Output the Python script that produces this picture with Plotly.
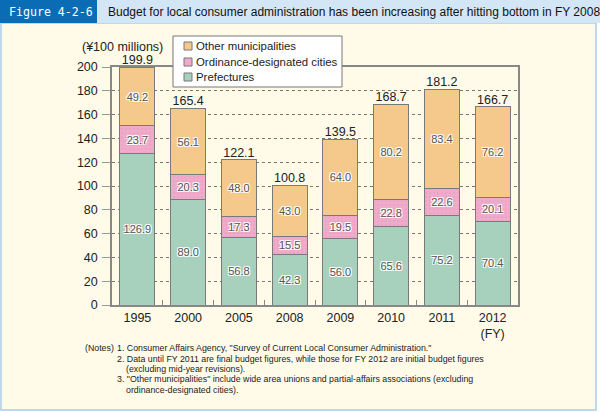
import plotly.graph_objects as go

years = ['1995', '2000', '2005', '2008', '2009', '2010', '2011', '2012<br>(FY)']
prefectures = [126.9, 89.0, 56.8, 42.3, 56.0, 65.6, 75.2, 70.4]
designated = [23.7, 20.3, 17.3, 15.5, 19.5, 22.8, 22.6, 20.1]
other = [49.2, 56.1, 48.0, 43.0, 64.0, 80.2, 83.4, 76.2]
totals = [199.9, 165.4, 122.1, 100.8, 139.5, 168.7, 181.2, 166.7]

notes = [
    '1. Consumer Affairs Agency, "Survey of Current Local Consumer Administration."',
    '2. Data until FY 2011 are final budget figures, while those for FY 2012 are initial budget figures',
    '   (excluding mid-year revisions).',
    '3. "Other municipalities" include wide area unions and partial-affairs associations (excluding',
    '   ordinance-designated cities).',
]

c_pref = '#a7d1bc'
c_desig = '#efabc9'
c_other = '#f5c98c'

W, H = 600, 412
L, R, T, B = 112, 518, 67, 305


def px(x):
    return (x - L) / (R - L)


def py(y):
    return (B - y) / (B - T)


FONT = 'Liberation Sans, Arial'
halo = '1px 1px 0 #fff, -1px -1px 0 #fff, 1px -1px 0 #fff, -1px 1px 0 #fff'
lbl_font = dict(family=FONT, size=11, color='#555', shadow=halo)
edge = dict(color='#7a7a7a', width=1)

fig = go.Figure()
fig.add_trace(go.Bar(x=years, y=prefectures, name='Prefectures',
                     marker=dict(color=c_pref, line=edge),
                     texttemplate='%{y:.1f}', textposition='inside', textangle=0,
                     insidetextanchor='middle', constraintext='none',
                     textfont=lbl_font))
fig.add_trace(go.Bar(x=years, y=designated, name='Ordinance-designated cities',
                     marker=dict(color=c_desig, line=edge,
                                 pattern=dict(shape='.', size=4, solidity=0.15,
                                              fgcolor='#e08bb2')),
                     texttemplate='%{y:.1f}', textposition='inside', textangle=0,
                     insidetextanchor='middle', constraintext='none',
                     textfont=lbl_font))
fig.add_trace(go.Bar(x=years, y=other, name='Other municipalities',
                     marker=dict(color=c_other, line=edge),
                     texttemplate='%{y:.1f}', textposition='inside', textangle=0,
                     insidetextanchor='middle', constraintext='none',
                     textfont=lbl_font))
fig.add_trace(go.Scatter(x=years, y=totals, mode='text', text=[f'{v:.1f}' for v in totals],
                         textposition='top center', showlegend=False, hoverinfo='skip',
                         textfont=dict(family=FONT, size=12.5, color='#222'),
                         cliponaxis=False))


def prect(x0, x1, y0, y1, **kw):
    return dict(type='rect', xref='paper', yref='paper',
                x0=px(x0), x1=px(x1), y0=py(y0), y1=py(y1), **kw)


def ptext(text, x, y, size, xanchor='left', color='#222', family=FONT):
    return dict(text=text, xref='paper', yref='paper', x=px(x), y=py(y),
                xanchor=xanchor, yanchor='middle', showarrow=False,
                font=dict(family=family, size=size, color=color))


shapes = [
    prect(1, 596, 23, 410, fillcolor='#fffbe8', line=dict(color='#a9cbe9', width=1.5), layer='below'),
    prect(0, 600, 0, 23, fillcolor='#d3e6f5', line=dict(width=0), layer='below'),
    prect(0, 97, 0, 23, fillcolor='#0a6cb5', line=dict(width=0), layer='below'),
    # legend box
    prect(173, 342, 36, 87, fillcolor='white', line=dict(color='#777', width=1)),
]

legend_items = [('Other municipalities', c_other, 46),
                ('Ordinance-designated cities', c_desig, 62),
                ('Prefectures', c_pref, 77)]

ann = [
    ptext('Figure 4-2-6', 51, 12, 11.6, xanchor='center', color='white', family='DejaVu Sans Mono'),
    ptext('Budget for local consumer administration has been increasing after hitting bottom in FY 2008',
          106, 12, 12, color='#111'),
    ptext('(¥100 millions)', 165, 47, 12.5, xanchor='right'),
    ptext('(Notes)', 83, 348, 8.8),
]
for name, col, yy in legend_items:
    shapes.append(prect(184, 192, yy - 4, yy + 4, fillcolor=col, line=dict(color='#777', width=1)))
    ann.append(ptext(name, 194, yy, 11.4))

note_y = [348, 359, 369, 379, 390]
for line, yy in zip(notes, note_y):
    xx = 124 if line.startswith('   ') else 115
    ann.append(ptext(line.strip(), xx, yy, 8.8))

fig.update_layout(
    width=W, height=H,
    margin=dict(l=L, r=W - R, t=T, b=H - B),
    barmode='stack', bargap=0.31,
    paper_bgcolor='#ffffff', plot_bgcolor='#ffffff',
    shapes=shapes, annotations=ann, showlegend=False,
    font=dict(family=FONT, color='#222'),
)
fig.update_xaxes(showline=True, linecolor='#888', linewidth=1.5, mirror=True,
                 ticks='inside', tickson='boundaries', ticklen=5, tickcolor='#888',
                 tickfont=dict(size=12.5, color='#222'))
fig.update_yaxes(range=[0, 200], dtick=20, showline=True, linecolor='#888', linewidth=1.5,
                 mirror=True, showgrid=True, gridcolor='#777', griddash='dot', gridwidth=1,
                 ticks='outside', ticklen=8, tickcolor='#999', zeroline=False,
                 tickfont=dict(size=12.5, color='#222'), ticklabelstandoff=2)

fig.write_html('out.html', config={'displayModeBar': False},
               post_script="document.body.style.margin='0';")
